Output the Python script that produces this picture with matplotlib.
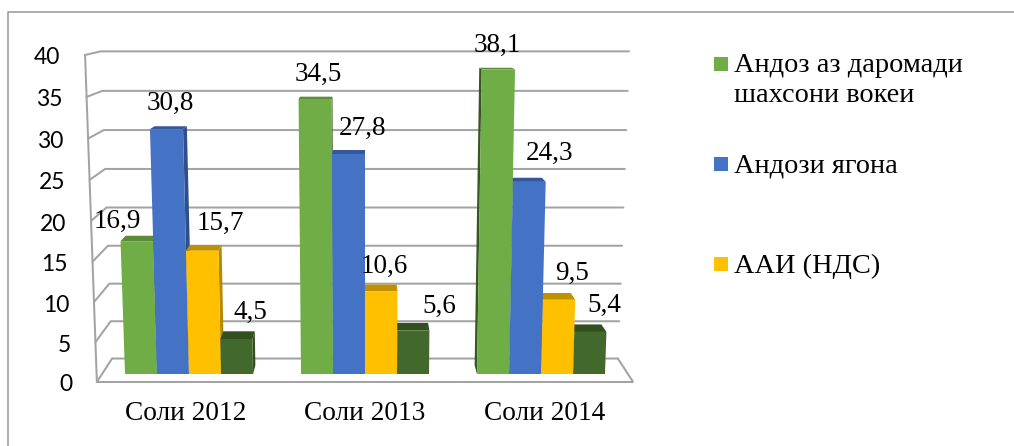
import matplotlib
matplotlib.use("Agg")
import matplotlib.pyplot as plt
from matplotlib.patches import Polygon, Rectangle

categories = ["Соли 2012", "Соли 2013", "Соли 2014"]
green_values = [16.9, 34.5, 38.1]
blue_values = [30.8, 27.8, 24.3]
yellow_values = [15.7, 10.6, 9.5]
dark_values = [4.5, 5.6, 5.4]
value_ticks = [0, 5, 10, 15, 20, 25, 30, 35, 40]
legend_labels = ["Андоз аз даромади\nшахсони вокеи", "Андози ягона", "ААИ (НДС)"]

W, H = 1014, 446
PX_X, PX_Y, BASE_PY, ORIGIN_PX = 176.0, 7.75, 374.0, 189.0
SERIF = "Liberation Serif"
SANS = "Lato"
GRID = "#A3A3A3"

fig = plt.figure(figsize=(W / 100, H / 100), dpi=100)
ax = fig.add_axes([0, 0, 1, 1])
ax.set_xlim(-ORIGIN_PX / PX_X, (W - ORIGIN_PX) / PX_X)
ax.set_ylim(-(H - BASE_PY) / PX_Y, BASE_PY / PX_Y)
ax.axis("off")

D_FRONT, D_BACK = -0.94, 1.82
X_L, X_R = -0.494, 2.494


def proj(x, v, d=0.0):
    """Simple perspective of the 3-D chart box, returned in data coordinates."""
    xo = 1 + (x - 1) * (1 - 0.021 * d) * (1 + 0.0011 * v)
    yo = v * (1 + 0.00083 * v) + d * (8.5 - 0.18 * v) / PX_Y
    return xo, yo


def line(pts, **kw):
    ax.plot([p[0] for p in pts], [p[1] for p in pts], color=GRID, lw=1.45,
            solid_capstyle="round", solid_joinstyle="miter", zorder=1, **kw)


# Walls and floor
for v in value_ticks:
    line([proj(X_L, v, D_FRONT), proj(X_L, v, D_BACK), proj(X_R, v, D_BACK)])
line([proj(X_L, value_ticks[0], D_FRONT), proj(X_L, value_ticks[-1], D_FRONT)])
line([proj(X_L, 0, D_FRONT), proj(X_R, 0, D_FRONT), proj(X_R, 0, D_BACK)])

# Bars
series = [
    (green_values, "#70AD47", "#5B8A39", "#375623"),
    (blue_values, "#4472C4", "#34589A", "#2F4F8A"),
    (yellow_values, "#FFC000", "#BF9000", "#B58900"),
    (dark_values, "#43682B", "#32501F", "#32501F"),
]
BAR_W = 32 / PX_X
bars = []
for s, (vals, front, top, side) in enumerate(series):
    for g, v in enumerate(vals):
        bars.append((g + (s - 1.5) * BAR_W, v, front, top, side))
bars.sort(key=lambda b: -abs(b[0] - 1))

for z, (xc, v, front, top, side) in enumerate(bars):
    x0, x1 = xc - BAR_W / 2, xc + BAR_W / 2
    sx = x1 if xc < 1 else x0
    zo = 3 + z
    ax.add_patch(Polygon([proj(sx, 0, 0), proj(sx, v, 0), proj(sx, v, 1), proj(sx, 0, 1)],
                         closed=True, fc=side, ec="none", zorder=zo))
    ax.add_patch(Polygon([proj(x0, v, 0), proj(x1, v, 0), proj(x1, v, 1), proj(x0, v, 1)],
                         closed=True, fc=top, ec="none", zorder=zo))
    ax.add_patch(Polygon([proj(x0, 0, 0), proj(x1, 0, 0), proj(x1, v, 0), proj(x0, v, 0)],
                         closed=True, fc=front, ec="none", zorder=zo))

# Data labels, placed by hand-tuned pixel offsets from the top of each bar
label_offsets = [
    [(-19.5, 20), (3.5, 25), (-0.7, 24)],
    [(4, 26), (14, 25), (20.4, 28)],
    [(18.5, 27), (3, 25), (13, 26)],
    [(14.5, 27), (26, 24), (14, 27)],
]
for s, (vals, *_rest) in enumerate(series):
    for g, v in enumerate(vals):
        ax.annotate(f"{v:.1f}".replace(".", ","),
                    xy=proj(g + (s - 1.5) * BAR_W, v, 0), xytext=label_offsets[s][g],
                    textcoords="offset pixels", ha="center", va="center",
                    family=SERIF, fontsize=19.5, color="black", zorder=50)

# Value axis labels
for v in value_ticks:
    ax.annotate(str(v), xy=proj(X_L, v, D_FRONT), xytext=(-24.5, -3),
                textcoords="offset pixels", ha="right", va="center",
                family=SANS, fontsize=16.5, color="black", zorder=50)

# Category labels
for g, c in enumerate(categories):
    ax.annotate(c, xy=proj(g, 0, D_FRONT), xytext=(0, -32), textcoords="offset pixels",
                ha="center", va="center", family=SERIF, fontsize=19.7, color="black", zorder=50)


# Legend and chart frame drawn in figure pixels
def fx(px): return px / W
def fy(py): return 1 - py / H


legend_rows = [64, 164, 264]
for py, lab, (_, col, *_r) in zip(legend_rows, legend_labels, series):
    fig.add_artist(Rectangle((fx(714), fy(py + 7)), 14 / W, 14 / H,
                             transform=fig.transFigure, fc=col, ec="none"))
    fig.text(fx(734), fy(py + 2), lab.split("\n")[0], ha="left", va="center",
             family=SERIF, fontsize=20.4)
    if "\n" in lab:
        fig.text(fx(734), fy(py + 32), lab.split("\n")[1], ha="left", va="center",
                 family=SERIF, fontsize=20.4)

fig.add_artist(plt.Line2D([fx(8), fx(8), 1], [0, fy(12), fy(12)], color="#A0A0A0", lw=1.2,
                          transform=fig.transFigure))

fig.savefig("out.png", dpi=100)
